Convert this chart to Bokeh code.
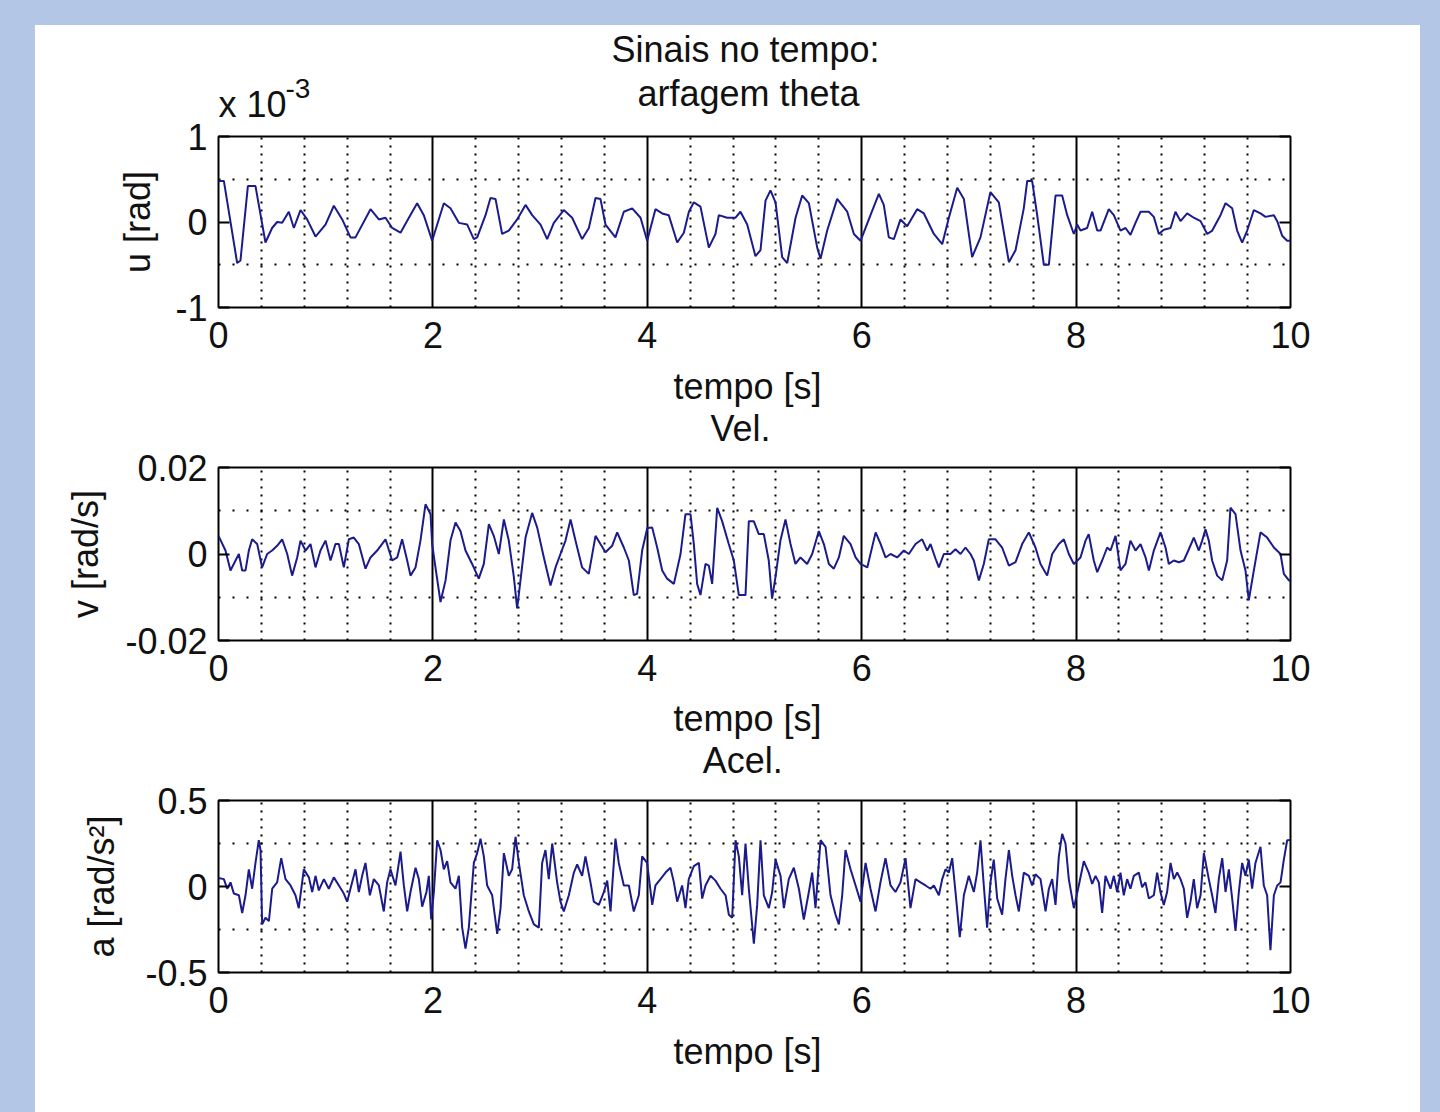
from bokeh.plotting import figure
from bokeh.layouts import column, row
from bokeh.core.properties import value
from bokeh.models import (Range1d, FixedTicker, Grid, LinearAxis, Label, Spacer,
                          CustomJSTickFormatter, GlobalInlineStyleSheet)
from bokeh.embed import file_html
from bokeh.resources import INLINE

# ---------------- data ----------------
x_ticks = [0, 2, 4, 6, 8, 10]

# pitch angle u, plotted in units of 1e-3 rad
t_u = [0, 0.05, 0.174, 0.205, 0.274, 0.345, 0.438, 0.5, 0.547, 0.594,
       0.656, 0.703, 0.765, 0.827, 0.905, 0.998, 1.076, 1.154, 1.231, 1.278,
       1.418, 1.496, 1.558, 1.62, 1.698, 1.776, 1.853, 1.915, 1.993, 2.102,
       2.164, 2.242, 2.32, 2.382, 2.413, 2.491, 2.537, 2.584, 2.646, 2.708,
       2.786, 2.864, 2.926, 3.004, 3.066, 3.128, 3.221, 3.299, 3.392, 3.455,
       3.517, 3.563, 3.61, 3.703, 3.781, 3.859, 3.937, 3.999,
       4.076, 4.139, 4.2, 4.279, 4.341, 4.388, 4.434, 4.496, 4.574, 4.636,
       4.667, 4.745, 4.823, 4.869, 4.932, 5.009, 5.056, 5.103, 5.149, 5.196,
       5.258, 5.305, 5.383, 5.445, 5.507, 5.585, 5.616, 5.678, 5.771, 5.865,
       5.927, 5.989, 6.082, 6.16, 6.206, 6.253, 6.3, 6.362, 6.424, 6.517,
       6.58, 6.673, 6.751, 6.813, 6.891, 6.953, 7.03, 7.108, 7.201, 7.279,
       7.373, 7.435, 7.512, 7.544, 7.59, 7.637, 7.699, 7.746, 7.808, 7.87,
       7.917, 7.979,
       8.01, 8.041, 8.103, 8.15, 8.197, 8.228, 8.305, 8.352, 8.414, 8.461,
       8.507, 8.554, 8.601, 8.678, 8.725, 8.772, 8.818, 8.881, 8.927, 8.974,
       9.036, 9.098, 9.161, 9.223, 9.27, 9.347, 9.394, 9.456, 9.502, 9.549,
       9.596, 9.658, 9.72, 9.767, 9.845, 9.876, 9.922, 9.969, 10.0]
u_e3 = [0.48, 0.48, -0.48, -0.45, 0.42, 0.42, -0.24, -0.07, 0.0, -0.01,
        0.12, -0.07, 0.14, 0.03, -0.17, -0.03, 0.19, 0.03, -0.18, -0.18,
        0.15, 0.03, 0.05, -0.07, -0.125, 0.05, 0.22, 0.08, -0.22, 0.22,
        0.16, -0.01, -0.03, -0.2, -0.18, 0.08, 0.28, 0.27, -0.14, -0.1,
        0.03, 0.2, 0.08, -0.03, -0.2, -0.01, 0.14, 0.05, -0.2, -0.07,
        0.28, 0.27, -0.03, -0.18, 0.12, 0.16, 0.05, -0.22,
        0.15, 0.1, 0.08, -0.24, -0.125, 0.12, 0.23, 0.18, -0.3, -0.14,
        0.08, 0.05, 0.05, 0.12, -0.03, -0.4, -0.33, 0.25, 0.37, 0.23,
        -0.41, -0.48, 0.05, 0.31, 0.22, -0.3, -0.43, -0.1, 0.27, 0.12,
        -0.14, -0.22, 0.08, 0.33, 0.2, -0.18, -0.2, 0.03, -0.05, 0.15,
        0.1, -0.14, -0.26, 0.05, 0.4, 0.27, -0.41, -0.18, 0.35, 0.23,
        -0.47, -0.33, 0.16, 0.48, 0.48, 0.08, -0.5, -0.5, 0.31, 0.31,
        0.08, -0.14,
        -0.03, -0.1, -0.07, 0.12, -0.1, -0.1, 0.15, 0.08, -0.1, -0.07,
        -0.15, -0.01, 0.12, 0.12, 0.06, -0.14, -0.09, -0.07, 0.12, 0.01,
        0.1, 0.05, 0.01, -0.14, -0.1, 0.08, 0.22, 0.16, -0.1, -0.24,
        -0.1, 0.14, 0.1, 0.06, 0.08, 0.01, -0.16, -0.22, -0.22]

# velocity v [rad/s]
t_v = [0, 0.065, 0.112, 0.159, 0.19, 0.221, 0.252, 0.283, 0.314, 0.361,
       0.407, 0.454, 0.5, 0.547, 0.594, 0.641, 0.687, 0.734, 0.765, 0.812,
       0.858, 0.905, 0.951, 0.998, 1.045, 1.091, 1.123, 1.169, 1.216, 1.262,
       1.309, 1.371, 1.418, 1.48, 1.558, 1.62, 1.667, 1.713, 1.76, 1.791,
       1.838, 1.884, 1.931, 1.978, 1.993, 2.024, 2.071, 2.118, 2.164, 2.211,
       2.257, 2.304, 2.366, 2.428, 2.475, 2.522, 2.568, 2.615, 2.662, 2.708,
       2.755, 2.786, 2.817, 2.864, 2.926, 2.973, 3.035, 3.097, 3.144, 3.19,
       3.237, 3.284, 3.33, 3.392, 3.454, 3.517, 3.563, 3.61, 3.672, 3.719,
       3.781, 3.828, 3.874, 3.905, 3.952, 4.0,
       4.046, 4.092, 4.139, 4.185, 4.248, 4.31, 4.356, 4.403, 4.434, 4.465,
       4.496, 4.543, 4.574, 4.605, 4.652, 4.698, 4.76, 4.807, 4.854, 4.916,
       4.947, 4.993, 5.04, 5.087, 5.133, 5.164, 5.196, 5.242, 5.289, 5.336,
       5.382, 5.429, 5.491, 5.538, 5.6, 5.647, 5.694, 5.74, 5.787, 5.833,
       5.896, 5.943, 5.989, 6.052, 6.13, 6.177, 6.222, 6.269, 6.331, 6.393,
       6.44, 6.502, 6.564, 6.611, 6.642, 6.689, 6.72, 6.766, 6.828, 6.875,
       6.922, 6.968, 7.015, 7.046, 7.093, 7.139, 7.186, 7.248, 7.31, 7.373,
       7.435, 7.497, 7.559, 7.621, 7.668, 7.73, 7.777, 7.839, 7.886, 7.932,
       7.979,
       8.041, 8.088, 8.118, 8.165, 8.197, 8.243, 8.29, 8.321, 8.368, 8.414,
       8.461, 8.507, 8.554, 8.601, 8.648, 8.679, 8.725, 8.787, 8.834, 8.865,
       8.912, 8.958, 9.005, 9.052, 9.098, 9.145, 9.176, 9.207, 9.238, 9.269,
       9.316, 9.363, 9.409, 9.44, 9.487, 9.534, 9.58, 9.611, 9.658, 9.72,
       9.782, 9.845, 9.907, 9.938, 9.985, 10.0]
v = [0.0042, 0.0008, -0.0038, -0.0015, 0.0, -0.0038, -0.0038, 0.0008, 0.0034, 0.0023,
     -0.0031, 0.0, 0.0008, 0.0019, 0.0034, 0.0, -0.005, -0.0008, 0.0031, 0.0008,
     0.0023, -0.0031, 0.0008, 0.0031, -0.0015, 0.0023, 0.0023, -0.0031, 0.0034, 0.0038,
     0.0023, -0.0034, -0.0008, 0.0008, 0.0034, -0.0015, -0.0008, 0.0034, -0.0015, -0.005,
     -0.0031, 0.0031, 0.0115, 0.0092, 0.0023, -0.0031, -0.0111, -0.0061, 0.0031, 0.0073,
     0.0053, 0.0008, -0.0023, -0.0057, -0.0023, 0.0069, 0.0042, 0.0, 0.008, 0.0031,
     -0.0053, -0.0126, -0.0061, 0.0038, 0.0095, 0.0061, -0.0008, -0.0073, -0.0031, 0.0,
     0.0031, 0.008, 0.0031, -0.0031, -0.0046, 0.0042, 0.0023, 0.0004, 0.0019, 0.005,
     0.0015, -0.0015, -0.0095, -0.0092, 0.0008, 0.006,
     0.0061, 0.0015, -0.0038, -0.0057, -0.0069, 0.0, 0.0092, 0.0092, 0.0023, -0.0069,
     -0.0095, -0.0023, -0.0027, -0.0069, 0.0107, 0.0076, 0.0023, -0.0015, -0.0095, -0.0095,
     0.0076, 0.0076, 0.0046, 0.0046, -0.0015, -0.0103, -0.0053, 0.0031, 0.008, 0.0023,
     -0.0023, -0.0008, -0.0023, 0.0, 0.0053, 0.0023, -0.0023, -0.0034, -0.0008, 0.0042,
     0.0023, -0.0008, -0.0023, -0.0031, 0.005, 0.0023, -0.0008, 0.0, -0.0008, 0.0008,
     0.0, 0.0023, 0.0034, 0.0008, 0.0023, -0.0011, -0.0031, 0.0, 0.0, 0.0011,
     0.0, 0.0015, 0.0, -0.0015, -0.0061, -0.0023, 0.0034, 0.0034, 0.0015, -0.0027,
     -0.0019, 0.0023, 0.005, 0.0015, -0.0023, -0.005, 0.0, 0.0023, 0.0034, 0.0,
     -0.0023,
     -0.0008, 0.0031, 0.0046, -0.0015, -0.0042, -0.0015, 0.0015, 0.0008, 0.0042, -0.0038,
     -0.0023, 0.0031, 0.0008, 0.0023, -0.0008, -0.0038, 0.0008, 0.005, 0.0015, -0.0023,
     -0.0015, -0.0019, -0.0015, 0.0011, 0.0038, 0.0008, 0.0031, 0.0057, 0.0031, -0.0015,
     -0.005, -0.0061, -0.0015, 0.0107, 0.0092, 0.0008, -0.0038, -0.0107, -0.0038, 0.005,
     0.0038, 0.0015, 0.0, -0.0046, -0.0061, -0.0061]

# acceleration a [rad/s^2]
t_a = [0.0, 0.05, 0.081, 0.112, 0.143, 0.19, 0.221, 0.252, 0.283, 0.314,
       0.345, 0.376, 0.392, 0.407, 0.438, 0.47, 0.501, 0.547, 0.585, 0.625,
       0.672, 0.718, 0.749, 0.796, 0.843, 0.874, 0.905, 0.936, 0.983, 1.029,
       1.076, 1.123, 1.169, 1.2, 1.231, 1.278, 1.309, 1.34, 1.371, 1.412,
       1.449, 1.496, 1.542, 1.573, 1.604, 1.651, 1.698, 1.729, 1.76, 1.791,
       1.838, 1.869, 1.9, 1.94, 1.962, 1.984, 2.009, 2.04, 2.071, 2.102,
       2.133, 2.164, 2.211, 2.242, 2.273, 2.304, 2.335, 2.382, 2.413, 2.444,
       2.475, 2.506, 2.553, 2.6, 2.631, 2.662, 2.708, 2.739, 2.771, 2.802,
       2.848, 2.895, 2.942, 2.988, 3.019, 3.05, 3.081, 3.113, 3.159, 3.19,
       3.221, 3.268, 3.315, 3.346, 3.392, 3.423, 3.47, 3.501, 3.548, 3.595,
       3.626, 3.657, 3.703, 3.734, 3.781, 3.828, 3.874, 3.921, 3.952, 3.998,
       4.046, 4.076, 4.123, 4.17, 4.216, 4.248, 4.279, 4.325, 4.356, 4.387,
       4.434, 4.481, 4.512, 4.543, 4.59, 4.636, 4.683, 4.73, 4.761, 4.792,
       4.823, 4.854, 4.885, 4.916, 4.947, 4.994, 5.025, 5.056, 5.087, 5.134,
       5.165, 5.196, 5.243, 5.274, 5.32, 5.367, 5.414, 5.46, 5.507, 5.538,
       5.569, 5.616, 5.663, 5.709, 5.756, 5.787, 5.818, 5.849, 5.896, 5.943,
       5.989, 6.036, 6.082, 6.129, 6.175, 6.222, 6.269, 6.315, 6.362, 6.409,
       6.455, 6.502, 6.549, 6.595, 6.642, 6.673, 6.72, 6.751, 6.782, 6.813,
       6.844, 6.875, 6.915, 6.953, 6.999, 7.046, 7.077, 7.108, 7.139, 7.17,
       7.201, 7.232, 7.264, 7.31, 7.341, 7.373, 7.404, 7.435, 7.466, 7.512,
       7.559, 7.59, 7.621, 7.668, 7.715, 7.746, 7.777, 7.808, 7.839, 7.87,
       7.901, 7.932, 7.979,
       8.025, 8.072, 8.118, 8.15, 8.181, 8.212, 8.243, 8.274, 8.321, 8.352,
       8.383, 8.414, 8.445, 8.476, 8.507, 8.539, 8.585, 8.616, 8.647, 8.679,
       8.725, 8.756, 8.787, 8.818, 8.849, 8.881, 8.912, 8.943, 8.974, 9.005,
       9.036, 9.067, 9.098, 9.129, 9.161, 9.192, 9.238, 9.269, 9.3, 9.331,
       9.363, 9.394, 9.425, 9.456, 9.487, 9.518, 9.549, 9.58, 9.611, 9.642,
       9.673, 9.72, 9.751, 9.782, 9.813, 9.845, 9.876, 9.907, 9.938, 9.969,
       10.0]
a = [0.05, 0.043, -0.013, 0.024, -0.041, -0.051, -0.154, -0.051, 0.1, -0.013,
     0.137, 0.269, 0.212, -0.22, -0.182, -0.201, -0.013, 0.024, 0.165, 0.043,
     0.006, -0.051, -0.126, 0.1, 0.053, -0.032, 0.062, -0.023, 0.043, -0.013,
     0.053, 0.006, -0.041, -0.088, -0.013, 0.1, -0.032, 0.062, 0.137, -0.051,
     0.043, 0.006, -0.145, 0.024, 0.1, 0.006, 0.203, 0.006, -0.145, -0.032,
     0.109, 0.043, -0.117, -0.032, 0.062, -0.192, -0.032, 0.269, 0.212, 0.1,
     0.147, 0.024, -0.013, 0.062, -0.239, -0.361, -0.239, 0.137, 0.194, 0.278,
     0.175, 0.006, -0.051, -0.276, -0.126, 0.194, 0.062, 0.1, 0.288, 0.137,
     -0.051, -0.145, -0.22, -0.239, 0.137, 0.212, 0.043, 0.25, 0.024, -0.088,
     -0.145, -0.051, 0.081, 0.128, 0.062, 0.175, 0.024, -0.088, -0.107, -0.032,
     0.034, -0.145, 0.278, 0.137, 0.006, 0.006, -0.145, -0.051, 0.175, 0.137,
     -0.107, 0.006, 0.043, 0.081, 0.109, 0.024, -0.088, 0.006, -0.126, 0.043,
     0.118, 0.137, -0.07, 0.006, 0.062, 0.034, -0.013, -0.051, -0.164, -0.182,
     0.269, 0.175, -0.051, 0.25, -0.013, -0.333, -0.107, 0.269, -0.051, -0.126,
     -0.032, 0.156, 0.062, -0.126, 0.043, 0.109, -0.013, -0.192, -0.032, 0.081,
     -0.126, 0.269, 0.231, -0.051, -0.164, -0.22, -0.051, 0.212, 0.1, 0.006,
     -0.088, 0.137, -0.013, -0.145, 0.024, 0.165, 0.006, -0.032, 0.024, 0.165,
     -0.126, 0.043, 0.024, 0.006, -0.013, 0.006, -0.051, 0.043, 0.1, 0.081,
     0.165, -0.032, -0.295, -0.051, 0.062, -0.032, 0.081, 0.269, 0.006, -0.239,
     0.024, 0.156, -0.07, -0.164, 0.043, 0.212, 0.062, -0.051, -0.145, 0.081,
     0.062, 0.006, 0.071, 0.043, -0.145, -0.013, 0.043, -0.107, 0.175, 0.306,
     0.25, 0.043, -0.126,
     0.006, 0.147, 0.081, 0.015, 0.062, 0.024, -0.154, 0.062, -0.013, 0.062,
     -0.032, 0.081, -0.051, 0.043, -0.013, 0.062, 0.081, -0.004, 0.024, -0.07,
     -0.051, 0.081, -0.032, -0.107, -0.032, 0.137, 0.043, 0.081, 0.043, -0.013,
     -0.182, -0.088, 0.043, -0.126, -0.051, 0.194, 0.043, -0.051, -0.154, 0.043,
     0.165, -0.032, 0.1, -0.07, -0.258, -0.032, 0.137, 0.062, 0.156, -0.013,
     0.137, 0.231, 0.006, -0.051, -0.37, -0.051, 0.006, 0.024, 0.156, 0.269,
     0.27]

assert len(t_u) == len(u_e3) and len(t_v) == len(v) and len(t_a) == len(a)

# ---------------- styling ----------------
FONT = "Liberation Sans"
FS = "36px"
TXT = "#111111"
LINE = "#1b1b8c"
BG = "#b4c6e6"
W = 1385

try:
    Label(x=0, y=0, text="t", text_font=value(FONT))
    LFONT = value(FONT)
except Exception:
    LFONT = FONT

fmt = CustomJSTickFormatter(code="return String(tick);")
blank = CustomJSTickFormatter(code="return '';")
minor_x = [round(0.4 * k, 1) for k in range(1, 25) if k % 5]


def strip(height):
    """text-only band; its frame is aligned with the plot frames (x: 0..10)."""
    h = figure(width=W, height=height, x_range=Range1d(0, 10), y_range=Range1d(height, 0),
               output_backend="svg", toolbar_location=None,
               min_border_left=0, min_border_right=0, min_border_top=0, min_border_bottom=0,
               background_fill_color="white", border_fill_color="white",
               outline_line_color=None)
    h.axis.visible = False
    h.grid.visible = False
    return h


def lab(h, text, x, y, size=FS, align="center"):
    h.add_layout(Label(x=x, y=y, text=text, text_font=LFONT, text_font_size=size,
                       text_color=TXT, text_align=align, text_baseline="middle"))


def panel(t, y, yr, yticks, ygrid, height, top, bottom, ylabel, ystand):
    p = figure(width=W, height=height, x_range=Range1d(0, 10),
               y_range=Range1d(*yr), output_backend="svg", toolbar_location=None,
               min_border_left=183, min_border_right=130,
               min_border_top=top, min_border_bottom=bottom,
               background_fill_color="white", border_fill_color="white",
               outline_line_color="black", outline_line_width=2)
    # grids
    p.xgrid.ticker = FixedTicker(ticks=minor_x)
    p.xgrid.grid_line_color = "black"
    p.xgrid.grid_line_width = 2
    p.xgrid.grid_line_dash = "2 6"
    p.ygrid.ticker = FixedTicker(ticks=ygrid)
    p.ygrid.grid_line_color = "black"
    p.ygrid.grid_line_width = 2
    p.ygrid.grid_line_dash = "2 12"
    p.add_layout(Grid(dimension=0, ticker=FixedTicker(ticks=x_ticks[1:-1]),
                      grid_line_color="black", grid_line_width=2))
    # data
    p.line(t, y, line_color=LINE, line_width=2)
    # axes
    xa = p.xaxis[0]
    xa.ticker = FixedTicker(ticks=x_ticks)
    xa.formatter = fmt
    xa.major_tick_in = 0
    xa.major_tick_out = 0
    xa.minor_tick_line_color = None
    xa.axis_line_color = None
    xa.major_label_standoff = 14
    xa.major_label_text_font = FONT
    xa.major_label_text_font_size = FS
    xa.major_label_text_color = TXT
    ya = p.yaxis[0]
    ya.ticker = FixedTicker(ticks=yticks)
    ya.formatter = fmt
    ya.major_tick_in = 11
    ya.major_tick_out = 0
    ya.major_tick_line_width = 2
    ya.minor_tick_line_color = None
    ya.axis_line_color = None
    ya.major_label_standoff = 11
    ya.major_label_text_font = FONT
    ya.major_label_text_font_size = FS
    ya.major_label_text_color = TXT
    ya.axis_label = ylabel
    ya.axis_label_standoff = ystand
    ya.axis_label_text_font = FONT
    ya.axis_label_text_font_size = FS
    ya.axis_label_text_font_style = "normal"
    ya.axis_label_text_color = TXT
    ra = LinearAxis(ticker=FixedTicker(ticks=yticks), formatter=blank, major_tick_in=11,
                    major_tick_out=0, major_tick_line_width=2,
                    minor_tick_line_color=None, axis_line_color=None)
    p.add_layout(ra, "right")
    return p


# title block of panel 1 and the axis multiplier
h1 = strip(94)
lab(h1, "Sinais no tempo:", 4.916, 24)
lab(h1, "arfagem theta", 4.944, 68)
lab(h1, "x 10", 0.0, 79, align="left")
lab(h1, "-3", 0.625, 63, size="28px", align="left")

# panel 1: u (x 1e-3 rad)
p1 = panel(t_u, u_e3, (-1, 1), [-1, 0, 1], [-0.5, 0.5], 245, 17, 57, "u [rad]", 14)

g1 = strip(82)
lab(g1, "tempo [s]", 4.935, 22)
lab(g1, "Vel.", 4.87, 64)

# panel 2: v
p2 = panel(t_v, v, (-0.02, 0.02), [-0.02, 0, 0.02], [-0.01, 0.01], 251, 21, 57,
           "v [rad/s]", 16)

g2 = strip(82)
lab(g2, "tempo [s]", 4.935, 21)
lab(g2, "Acel.", 4.89, 63)

# panel 3: a
p3 = panel(t_a, a, (-0.5, 0.5), [-0.5, 0, 0.5], [-0.25, 0.25], 250, 21, 57,
           "a [rad/s\u00b2]", 20)

g3 = strip(83)
lab(g3, "tempo [s]", 4.935, 22)

inner = column(h1, p1, g1, p2, g2, p3, g3, styles={"background-color": "white"})
page = column(
    Spacer(width=1440, height=25),
    row(Spacer(width=35, height=1087), inner, Spacer(width=20, height=1087)),
)
page.stylesheets = [GlobalInlineStyleSheet(
    css="html, body { margin: 0; padding: 0; background: %s; overflow: hidden; }" % BG)]

open("out.html", "w").write(file_html(page, INLINE))
